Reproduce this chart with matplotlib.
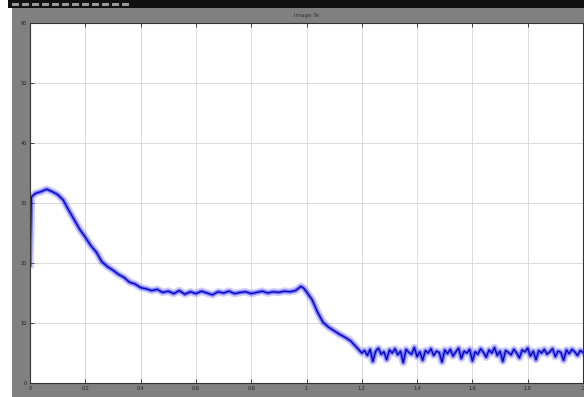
import matplotlib
matplotlib.use("Agg")
import matplotlib.pyplot as plt
from matplotlib.patches import Rectangle

# ---- data ----
time_main = [0.0, 0.005, 0.02, 0.04, 0.06, 0.08, 0.10, 0.12, 0.14, 0.16, 0.18, 0.20,
             0.22, 0.24, 0.26, 0.28, 0.30, 0.32, 0.34, 0.36, 0.38, 0.40, 0.42, 0.44,
             0.46, 0.48, 0.50, 0.52, 0.54, 0.56, 0.58, 0.60, 0.62, 0.64, 0.66, 0.68,
             0.70, 0.72, 0.74, 0.76, 0.78, 0.80, 0.82, 0.84, 0.86, 0.88, 0.90, 0.92,
             0.94, 0.96, 0.98, 0.99, 1.00, 1.02, 1.04, 1.06, 1.08, 1.10, 1.12, 1.14,
             1.16, 1.18, 1.20]
te_main = [19.7, 31.0, 31.6, 31.9, 32.3, 31.9, 31.4, 30.5, 28.8, 27.2, 25.6, 24.3,
           22.9, 21.8, 20.2, 19.4, 18.8, 18.1, 17.6, 16.8, 16.5, 15.9, 15.7, 15.4,
           15.6, 15.1, 15.3, 14.9, 15.4, 14.8, 15.2, 14.9, 15.3, 15.0, 14.7, 15.2,
           15.0, 15.3, 14.9, 15.1, 15.2, 14.9, 15.1, 15.3, 15.0, 15.2, 15.1, 15.3,
           15.2, 15.4, 16.1, 15.8, 15.2, 13.9, 11.8, 10.1, 9.3, 8.7, 8.1, 7.6,
           7.0, 6.0, 5.0]

time_end = [1.21, 1.22, 1.23, 1.24, 1.25, 1.26, 1.27, 1.28, 1.29, 1.30, 1.31, 1.32,
            1.33, 1.34, 1.35, 1.36, 1.37, 1.38, 1.39, 1.40, 1.41, 1.42, 1.43, 1.44,
            1.45, 1.46, 1.47, 1.48, 1.49, 1.50, 1.51, 1.52, 1.53, 1.54, 1.55, 1.56,
            1.57, 1.58, 1.59, 1.60, 1.61, 1.62, 1.63, 1.64, 1.65, 1.66, 1.67, 1.68,
            1.69, 1.70, 1.71, 1.72, 1.73, 1.74, 1.75, 1.76, 1.77, 1.78, 1.79, 1.80,
            1.81, 1.82, 1.83, 1.84, 1.85, 1.86, 1.87, 1.88, 1.89, 1.90, 1.91, 1.92,
            1.93, 1.94, 1.95, 1.96, 1.97, 1.98, 1.99, 2.00]
te_end = [5.4, 4.6, 5.6, 3.6, 5.3, 5.8, 4.8, 5.2, 3.9, 5.5, 5.0, 5.7,
          4.7, 5.3, 3.4, 5.6, 5.1, 4.8, 5.9, 4.4, 5.2, 3.8, 5.4, 5.0,
          5.7, 4.6, 5.3, 5.1, 3.5, 5.5, 4.9, 5.6, 4.5, 5.2, 5.8, 4.1,
          5.3, 5.0, 5.6, 3.7, 5.2, 4.8, 5.7, 5.1, 4.3, 5.5, 5.0, 5.9,
          4.6, 5.3, 3.6, 5.4, 5.1, 4.7, 5.6, 5.0, 4.2, 5.5, 5.2, 5.8,
          4.5, 5.3, 3.9, 5.4, 5.0, 5.6, 4.8, 5.2, 5.7, 4.4, 5.3, 5.1,
          3.8, 5.5, 4.9, 5.6, 5.2, 4.6, 5.4, 5.1]

x_ticks = [0, 0.2, 0.4, 0.6, 0.8, 1.0, 1.2, 1.4, 1.6, 1.8, 2.0]
x_labels = ["0", "0.2", "0.4", "0.6", "0.8", "1", "1.2", "1.4", "1.6", "1.8", "2"]
y_ticks = [0, 10, 20, 30, 40, 50, 60]
y_labels = ["0", "10", "20", "30", "40", "50", "60"]
title = "Image Te"

time = time_main + time_end
te = te_main + te_end

W, H = 584, 397
fig = plt.figure(figsize=(W / 100, H / 100), dpi=100)
fig.patch.set_facecolor("white")

# scope window background
fig.add_artist(Rectangle((12 / W, 0), 1 - 12 / W, 1 - 8 / H, transform=fig.transFigure,
                         facecolor="#808080", edgecolor="none", zorder=0))
fig.add_artist(Rectangle((8 / W, 1 - 8 / H), 1 - 8 / W, 8 / H, transform=fig.transFigure,
                         facecolor="#111111", edgecolor="none", zorder=0))
for i in range(12):
    fig.add_artist(Rectangle(((12 + i * 10) / W, 1 - 6 / H), 7 / W, 3 / H,
                             transform=fig.transFigure, facecolor="#9a9a9a",
                             edgecolor="none", zorder=1))

ax = fig.add_axes([30 / W, (H - 383) / H, 553 / W, 360 / H])
ax.set_facecolor("white")
ax.plot(time, te, color="#7a7aff", lw=5.5, alpha=0.35, solid_joinstyle="round")
ax.plot(time, te, color="#3030ff", lw=2.8, alpha=0.6, solid_joinstyle="round")
ax.plot(time, te, color="#0000b4", lw=0.9)

ax.set_xlim(0, 2)
ax.set_ylim(0, 60)
ax.set_xticks(x_ticks)
ax.set_xticklabels(x_labels)
ax.set_yticks(y_ticks)
ax.set_yticklabels(y_labels)
ax.grid(True, color="#d4d4d4", lw=0.6, linestyle="-")
ax.tick_params(axis="both", direction="in", length=3, width=0.6, labelsize=3.5,
               colors="#222222", top=True, right=False, pad=2)
for s in ax.spines.values():
    s.set_color("#333333")
    s.set_linewidth(0.8)
ax.set_title(title, fontsize=4, color="#333333", pad=4)

fig.savefig("out.png", dpi=100, facecolor=fig.get_facecolor())
